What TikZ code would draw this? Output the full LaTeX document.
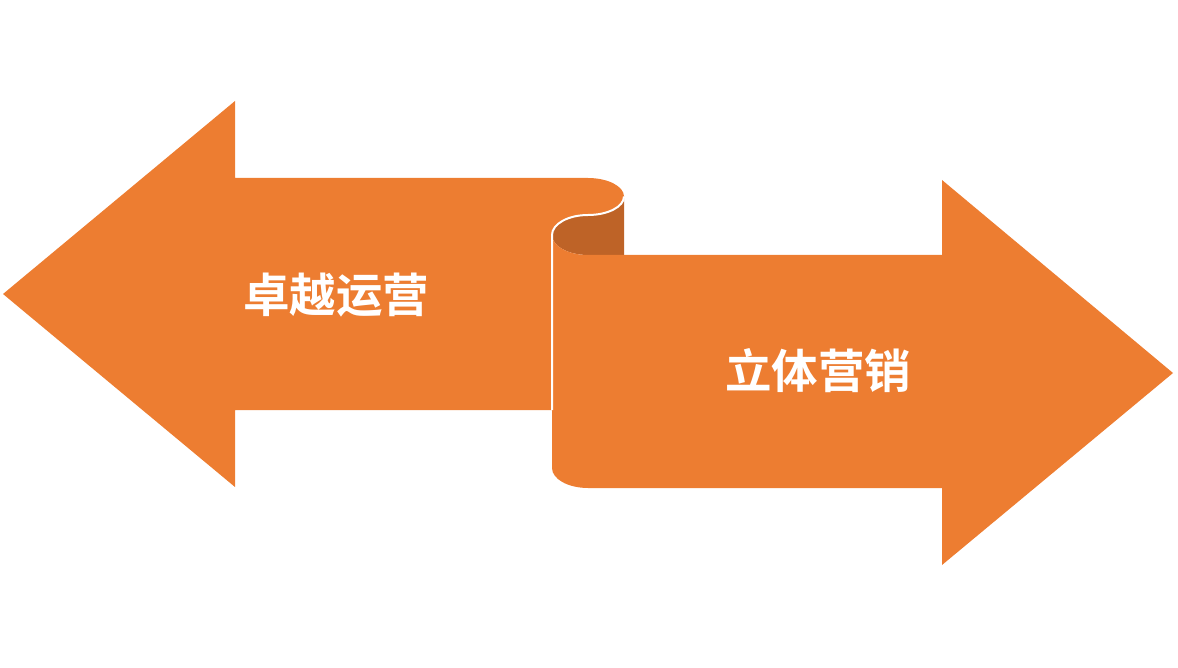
\documentclass[tikz,border=0pt]{standalone}
\usepackage{fontspec}
\newfontfamily\cjk{Noto Sans CJK SC}[BoldFont={Noto Sans CJK SC Bold}]
\definecolor{arroworange}{RGB}{237,125,49}
\definecolor{curldark}{RGB}{190,99,39}
\usetikzlibrary{positioning}

\begin{document}
\begin{tikzpicture}[
  x=1pt, y=-1pt,
  sh/.style={fill=arroworange, draw=none},
  lbl/.style={text=white, font=\cjk\bfseries\fontsize{46.5}{52}\selectfont, inner sep=0pt},
  edge/.style={draw=white, line width=2pt}
]
\useasboundingbox (0,0) rectangle (1178,668);
% left arrow with curled end
\path[sh] (3,294) -- (235,101) -- (235,178) -- (588,178)
  arc[start angle=-90, end angle=90, x radius=36, y radius=18.5]
  arc[start angle=-90, end angle=-180, x radius=36, y radius=20]
  -- (552,410) -- (235,410) -- (235,487) -- cycle;
% inside of the curl
\path[fill=curldark] (624,196.5) -- (624,255) -- (588,255)
  arc[start angle=90, end angle=180, x radius=36, y radius=20]
  arc[start angle=180, end angle=270, x radius=36, y radius=20]
  arc[start angle=90, end angle=0, x radius=36, y radius=18.5] -- cycle;
% right arrow
\path[sh] (552,235)
  arc[start angle=180, end angle=90, x radius=36, y radius=20]
  -- (942,255) -- (942,180) -- (1173,373) -- (942,565) -- (942,488) -- (588,488)
  arc[start angle=90, end angle=180, x radius=36, y radius=20] -- cycle;
\draw[edge] (624,196.5)
  arc[start angle=0, end angle=90, x radius=36, y radius=18.5]
  arc[start angle=-90, end angle=-180, x radius=36, y radius=20] -- (552,410);
\node[lbl] (ops) at (336,295) {卓越运营};
\node[lbl] (mkt) at (818,371) {立体营销};
\end{tikzpicture}
\end{document}
